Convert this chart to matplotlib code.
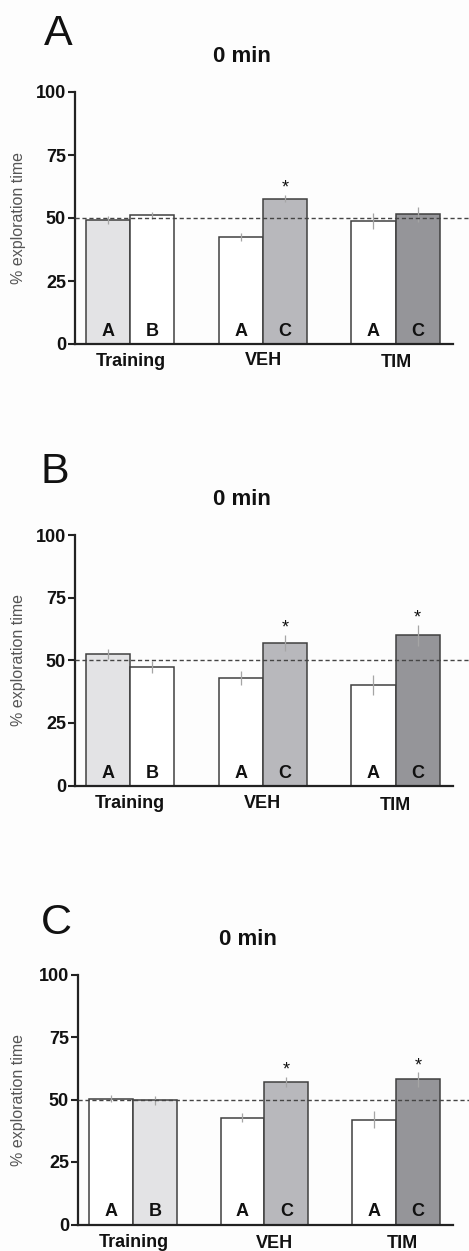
import matplotlib
matplotlib.use("Agg")
import matplotlib.pyplot as plt

plt.rcParams["font.family"] = ["Liberation Sans", "DejaVu Sans"]

# ---- data -------------------------------------------------------------
groups = ["Training", "VEH", "TIM"]
objects = ["A", "B", "A", "C", "A", "C"]
panel_names = ["A", "B", "C"]
titles = ["0 min", "0 min", "0 min"]

means_A = [49.3, 51.0, 42.4, 57.7, 48.8, 51.5]
sem_A = [1.5, 1.5, 1.5, 1.5, 3.0, 3.0]
star_A = [False, False, False, True, False, False]

means_B = [52.4, 47.4, 42.8, 56.9, 40.1, 59.9]
sem_B = [2.1, 2.4, 2.8, 3.2, 4.0, 4.3]
star_B = [False, False, False, True, False, True]

means_C = [50.4, 49.7, 42.8, 57.1, 42.0, 58.1]
sem_C = [1.3, 1.7, 1.9, 2.0, 3.5, 2.9]
star_C = [False, False, False, True, False, True]

chance_level = 50
yticks = [0, 25, 50, 75, 100]

# ---- styling ----------------------------------------------------------
WHITE = "#ffffff"
LIGHT = "#e3e3e5"
VEH_C = "#b8b8bc"
TIM_C = "#959599"
fills = {
    "A": [LIGHT, WHITE, WHITE, VEH_C, WHITE, TIM_C],
    "B": [LIGHT, WHITE, WHITE, VEH_C, WHITE, TIM_C],
    "C": [WHITE, LIGHT, WHITE, VEH_C, WHITE, TIM_C],
}
x_pos = [0, 1, 3, 4, 6, 7]
group_x = [0.5, 3.5, 6.5]

W, H = 469, 1251
fig = plt.figure(figsize=(W / 100, H / 100), dpi=100)
fig.patch.set_facecolor("#fdfdfd")


def fx(px):
    return px / W


def fy(py):
    return 1 - py / H


# pixel layout of each panel: axis left/right, y of 0 and 100
layout = {
    "A": dict(left=75, right=453, y0=344, y100=92, title=(242, 62.5), letter=(44, 45),
              glab_dy=[22, 21, 23], glab_dx=[1, 1, 1]),
    "B": dict(left=75, right=453, y0=785.5, y100=535, title=(242, 505), letter=(40, 483),
              glab_dy=[23, 22, 24], glab_dx=[0, 0, 0]),
    "C": dict(left=78, right=453, y0=1224.5, y100=974.5, title=(248, 945), letter=(41, 934),
              glab_dy=[22.5, 24, 23.5], glab_dx=[1, 10, 6]),
}
panel_data = {
    "A": (means_A, sem_A, star_A),
    "B": (means_B, sem_B, star_B),
    "C": (means_C, sem_C, star_C),
}

for name, title in zip(panel_names, titles):
    L = layout[name]
    means, sems, stars = panel_data[name]
    ax = fig.add_axes([fx(L["left"]), fy(L["y0"]), fx(L["right"] - L["left"]),
                       (L["y0"] - L["y100"]) / H])
    ax.set_facecolor("none")

    ax.bar(x_pos, means, width=1.0, color=fills[name], edgecolor="#404040",
           linewidth=1.1, zorder=2)
    for x, m, s in zip(x_pos, means, sems):
        ax.plot([x, x], [m - s, m + s], color="#a5a5a5", lw=0.9, zorder=3,
                solid_capstyle="butt")

    ax.axhline(chance_level, xmin=0, xmax=(W - L["left"]) / (L["right"] - L["left"]),
               color="#454545", lw=1.0, ls=(0, (3, 2)), zorder=4, clip_on=False)

    # object labels inside the bars
    for x, lab in zip(x_pos, objects):
        ax.annotate(lab, xy=(x, 0), xycoords="data", xytext=(0, 8 * 0.72),
                    textcoords="offset points", ha="center", va="baseline",
                    fontsize=13, fontweight="bold", color="#111111", zorder=5)

    # significance marks
    for x, m, s, st in zip(x_pos, means, sems, stars):
        if st:
            ax.text(x, m + s + 0.8, "*", ha="center", va="baseline",
                    fontsize=13, color="#111111", zorder=5)

    # group labels below the axis
    for gx, g, dy, dx in zip(group_x, groups, L["glab_dy"], L["glab_dx"]):
        ax.annotate(g, xy=(gx, 0), xycoords="data", xytext=(dx * 0.72, -dy * 0.72),
                    textcoords="offset points", ha="center", va="baseline",
                    fontsize=13, fontweight="bold", color="#111111",
                    annotation_clip=False)

    ax.set_xlim(-0.75, 7.8)
    ax.set_ylim(0, 100)
    ax.set_yticks(yticks)
    ax.set_yticklabels([str(t) for t in yticks], fontsize=13, fontweight="bold",
                       color="#111111")
    ax.set_xticks([])
    ax.tick_params(axis="y", length=5, width=1.5, pad=1.5, color="#222222")
    for sp in ("top", "right"):
        ax.spines[sp].set_visible(False)
    for sp in ("left", "bottom"):
        ax.spines[sp].set_linewidth(1.6)
        ax.spines[sp].set_color("#222222")

    fig.text(fx(19), fy((L["y0"] + L["y100"]) / 2), "% exploration time",
             rotation=90, ha="center", va="center", fontsize=11.5, color="#555555")
    fig.text(fx(L["title"][0]), fy(L["title"][1]), title, ha="center",
             va="baseline", fontsize=16, fontweight="bold", color="#111111")
    fig.text(fx(L["letter"][0]), fy(L["letter"][1]), name, ha="left",
             va="baseline", fontsize=31, color="#111111")

fig.savefig("out.png", dpi=100, facecolor=fig.get_facecolor())
